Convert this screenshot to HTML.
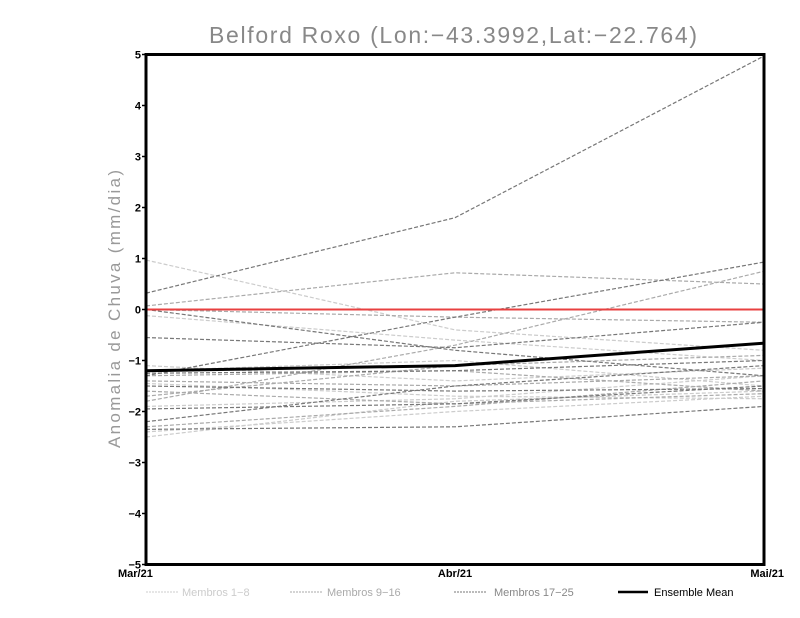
<!DOCTYPE html>
<html><head><meta charset="utf-8"><style>
body{margin:0;background:#fff;}
svg{display:block;font-family:"Liberation Sans",sans-serif;}
</style></head><body>
<svg id="chart" width="800" height="618" viewBox="0 0 800 618">
<text x="453" y="43" font-size="23" fill="#888" text-anchor="middle" textLength="488" lengthAdjust="spacing" font-weight="300">Belford Roxo (Lon:−43.3992,Lat:−22.764)</text>
<text transform="translate(120,309) rotate(-90)" font-size="17" fill="#999" text-anchor="middle" textLength="278" lengthAdjust="spacing">Anomalia de Chuva (mm/dia)</text>
<g id="series"></g>
<g id="axes"></g>
<g id="legend">
<line x1="146" y1="592" x2="178" y2="592" stroke="#ccc" stroke-width="1" stroke-dasharray="2,1"/>
<text x="182" y="596" font-size="11" fill="#ccc">Membros 1−8</text>
<line x1="290" y1="592" x2="322" y2="592" stroke="#aaa" stroke-width="1" stroke-dasharray="2,1"/>
<text x="327" y="596" font-size="11" fill="#aaa">Membros 9−16</text>
<line x1="454" y1="592" x2="486" y2="592" stroke="#777" stroke-width="1" stroke-dasharray="2,1"/>
<text x="494" y="596" font-size="11" fill="#888">Membros 17−25</text>
<line x1="618" y1="592" x2="648" y2="592" stroke="#000" stroke-width="2.5"/>
<text x="654" y="596" font-size="11" fill="#000">Ensemble Mean</text>
</g>
</svg>
<script>
const categories = ["Mar/21","Abr/21","Mai/21"];
const yTicks = [5,4,3,2,1,0,-1,-2,-3,-4,-5];
const yTickLabels = ["5","4","3","2","1","0","−1","−2","−3","−4","−5"];
const members1to8 = [
 [0.97,-0.4,-0.8],[-0.12,-0.6,-1.0],[-1.1,-1.4,-1.15],[-2.5,-1.8,-1.6],
 [-1.45,-1.7,-1.75],[-2.4,-2.0,-1.7],[-1.2,-1.0,-1.5],[-1.9,-1.75,-1.3]
];
const members9to16 = [
 [0.07,0.72,0.5],[-1.8,-0.7,0.75],[0.0,-0.15,-0.25],[-1.3,-1.2,-1.6],
 [-1.4,-1.5,-1.3],[-1.6,-1.85,-1.65],[-2.3,-1.9,-1.4],[-1.7,-1.1,-0.9]
];
const members17to25 = [
 [0.32,1.8,4.97],[0.0,-0.8,-1.3],[-0.55,-0.75,-0.25],[-1.3,-0.15,0.93],
 [-2.2,-1.5,-1.1],[-2.35,-2.3,-1.9],[-1.95,-1.85,-1.5],[-1.5,-1.6,-1.55],[-1.25,-1.2,-1.0]
];
const ensembleMean = [-1.2,-1.1,-0.66];

const X0=146, X1=764, Y0=564.5, Y1=54.5, YMIN=-5, YMAX=5;
const xs = i => X0 + (X1-X0)*i/(categories.length-1);
const ys = v => Y0 - (v-YMIN)/(YMAX-YMIN)*(Y0-Y1);
const NS="http://www.w3.org/2000/svg";
const g=document.getElementById('series'), ax=document.getElementById('axes');
function mk(tag,attrs,parent){const e=document.createElementNS(NS,tag);for(const k in attrs)e.setAttribute(k,attrs[k]);parent.appendChild(e);return e;}
function pts(arr){return arr.map((v,i)=>xs(i)+","+ys(v)).join(" ");}
[[members1to8,"#ccc","member-1-8"],[members9to16,"#aaa","member-9-16"],[members17to25,"#777","member-17-25"]].forEach(([set,col,nm])=>{
 set.forEach((s,j)=>{
  const p=mk('polyline',{points:pts(s),fill:"none",stroke:col,"stroke-width":1.2,"stroke-dasharray":"4,2"},g);
  
  
 });
});
const zl=mk('line',{x1:X0,x2:X1,y1:ys(0),y2:ys(0),stroke:"#e84040","stroke-width":2},g);


const ml=mk('polyline',{points:pts(ensembleMean),fill:"none",stroke:"#000","stroke-width":3},g);


const fr=mk('rect',{x:X0,y:Y1,width:X1-X0,height:Y0-Y1,fill:"none",stroke:"#000","stroke-width":3},ax);


yTicks.forEach((t,i)=>{
 const l=mk('line',{x1:X0-4,x2:X0,y1:ys(t),y2:ys(t),stroke:"#000","stroke-width":1.5},ax);
 
 
 const tx=mk('text',{x:X0-5,y:ys(t)+4,"font-size":11,"font-weight":"bold","text-anchor":"end",fill:"#000"},ax);
 tx.textContent=yTickLabels[i];
 
 
});
categories.forEach((c,i)=>{
 const anchor=i===0?"start":(i===categories.length-1?"end":"middle");
 const xx=i===0?X0-30:(i===categories.length-1?X1+20:xs(i));
 const tx=mk('text',{x:i===0?X0-28:(i===categories.length-1?X1+20:xs(i)),y:577,"font-size":11,"font-weight":"bold","text-anchor":i===0?"start":(i===categories.length-1?"end":"middle"),fill:"#000"},ax);
 tx.textContent=c;
 
 
});
</script>
</body></html>
